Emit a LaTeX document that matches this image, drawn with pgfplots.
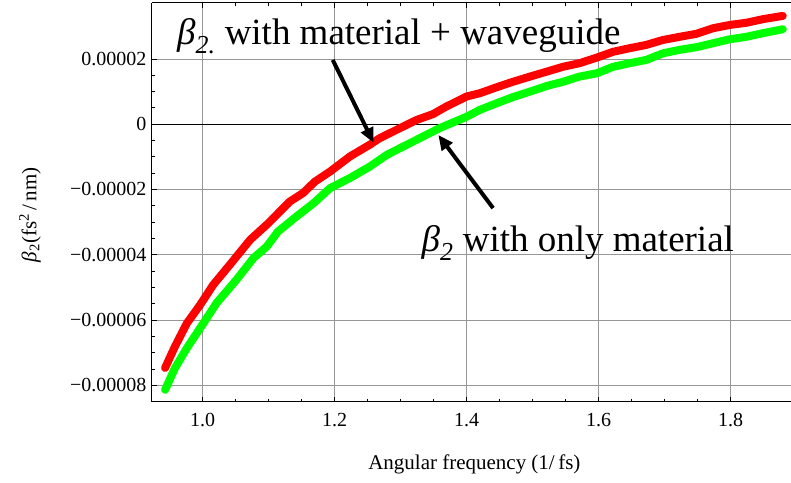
\documentclass[border=0pt]{standalone}
\usepackage{fontspec}
\setmainfont{Liberation Serif}
\usepackage{pgfplots}
\pgfplotsset{compat=1.18}
\usetikzlibrary{arrows.meta}

% beta_2 curves, values in units of 1e-5 fs^2/nm
\pgfplotstableread{
x      y
0.943 -7.47
0.950 -7.16
0.958 -6.81
0.976 -6.10
0.996 -5.54
1.016 -4.92
1.041 -4.31
1.072 -3.54
1.097 -3.08
1.132 -2.37
1.152 -2.11
1.170 -1.76
1.193 -1.45
1.223 -0.99
1.253 -0.63
1.268 -0.43
1.299 -0.12
1.324  0.13
1.349  0.31
1.369  0.54
1.400  0.85
1.420  0.95
1.445  1.13
1.470  1.30
1.496  1.46
1.521  1.61
1.546  1.76
1.571  1.87
1.597  2.04
1.622  2.22
1.647  2.33
1.672  2.43
1.697  2.58
1.723  2.68
1.748  2.77
1.773  2.94
1.798  3.04
1.824  3.11
1.849  3.22
1.879  3.32
}\withguide

\pgfplotstableread{
x      y
0.943 -8.14
0.958 -7.47
0.976 -6.86
1.001 -6.10
1.021 -5.48
1.051 -4.77
1.077 -4.10
1.097 -3.75
1.114 -3.29
1.142 -2.83
1.168 -2.42
1.193 -1.96
1.223 -1.65
1.253 -1.30
1.279 -0.94
1.319 -0.53
1.359 -0.12
1.400  0.23
1.420  0.44
1.445  0.64
1.470  0.83
1.496  1.00
1.521  1.17
1.546  1.30
1.571  1.46
1.597  1.56
1.622  1.76
1.647  1.87
1.672  1.97
1.697  2.17
1.723  2.28
1.748  2.36
1.773  2.48
1.798  2.60
1.824  2.68
1.849  2.79
1.879  2.91
}\material

\definecolor{gridgray}{RGB}{150,150,150}

\begin{document}
\begin{tikzpicture}
\begin{axis}[
  name=ax,
  scale only axis,
  width=639pt, height=399pt,
  xmin=0.923, xmax=1.8907,
  ymin=-8.506, ymax=3.715,
  axis x line=box, axis y line=left,
  axis line style={-, line width=1pt},
  xtick={1.0,1.2,...,1.8},
  xticklabels={1.0,1.2,1.4,1.6,1.8},
  minor x tick num=3,
  ytick={-8,-6,-4,-2,0,2},
  yticklabels={−0.00008,−0.00006,−0.00004,−0.00002,0,0.00002},
  minor y tick num=3,
  tick align=inside,
  major tick length=5pt, minor tick length=3pt,
  tick style={black, line width=0.8pt},
  grid=major,
  major grid style={gridgray, line width=0.9pt},
  ticklabel style={font=\fontsize{20}{24}\selectfont},
  xticklabel style={yshift=-8pt},
  yticklabel style={xshift=-2pt},
  xlabel={Angular frequency (1/\,fs)},
  ylabel={{\itshape β}\textsubscript{2}(fs\textsuperscript{2}\,/\,nm)},
  every axis x label/.style={at={(axis description cs:0.505,-0.170)}, anchor=base,
    font=\fontsize{21}{25}\selectfont},
  every axis y label/.style={at={(axis description cs:-0.191,0.469)}, anchor=center, rotate=90,
    font=\fontsize{21}{25}\selectfont},
  clip=false,
]
\draw[black, line width=0.9pt] (axis cs:0.923,0) -- (axis cs:1.8907,0);
\addplot[color=red, line width=8pt, line cap=round, line join=round] table {\withguide};
\addplot[color=green, line width=8pt, line cap=round, line join=round] table {\material};
\draw[black, line width=4pt, -{Triangle[length=15pt, width=13pt]}]
  (axis cs:1.197,1.97) -- (axis cs:1.259,-0.57);
\draw[black, line width=4pt, -{Triangle[length=15pt, width=13pt]}]
  (axis cs:1.440,-2.57) -- (axis cs:1.357,-0.33);
\node[anchor=base west, inner sep=0pt, font=\fontsize{37}{42}\selectfont]
  at (axis cs:0.961,2.43) {{\itshape β\textsubscript{2.}} with material + waveguide};
\node[anchor=base west, inner sep=0pt, font=\fontsize{37}{42}\selectfont]
  at (axis cs:1.3316,-3.90) {{\itshape β\textsubscript{2}} with only material};
\end{axis}
\path (ax.south west) ++(-152pt,-81pt) (ax.north east) ++(0,3pt);
\end{tikzpicture}
\end{document}
